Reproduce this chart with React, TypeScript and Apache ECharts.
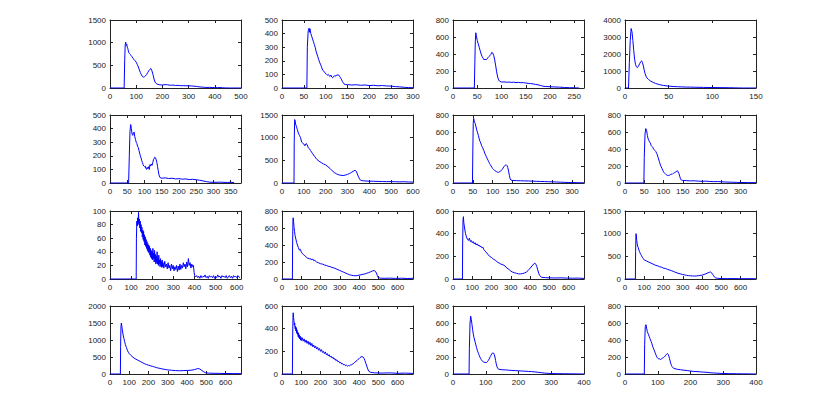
import React, { useEffect, useRef } from "react";
import * as echarts from "echarts";

// Histogram curves, one list of [bin, count] pairs per panel
const p1 = [[0,0],[54,0],[56,600],[58,950],[60,1010],[62,940],[64,960],[66,900],[68,870],[70,820],[72,780],[74,760],[76,770],[78,740],[80,720],[84,690],[88,650],[92,630],[96,600],[100,570],[104,520],[108,470],[112,400],[116,340],[120,290],[124,250],[128,240],[132,250],[136,270],[140,300],[144,340],[148,380],[152,410],[156,430],[158,420],[160,380],[164,300],[168,200],[172,130],[176,100],[180,85],[190,70],[200,65],[210,75],[220,70],[230,60],[240,65],[250,55],[260,58],[270,50],[280,52],[290,48],[300,50],[310,45],[320,40],[330,35],[340,25],[350,20],[360,15],[370,12],[380,14],[390,10],[400,12],[410,8],[420,10],[430,5],[440,2],[460,0],[500,0]];
const p2 = [[0,0],[57,0],[58,300],[60,420],[62,440],[63,410],[64,435],[66,400],[68,380],[70,360],[72,340],[74,320],[76,300],[78,270],[80,250],[82,230],[84,210],[86,190],[88,175],[90,160],[92,140],[94,130],[96,120],[98,115],[100,105],[102,100],[104,95],[106,100],[108,90],[110,85],[112,95],[114,80],[116,75],[118,85],[120,90],[122,85],[124,95],[126,92],[128,98],[130,95],[132,85],[134,75],[136,65],[138,50],[140,40],[142,30],[145,25],[150,25],[160,22],[170,24],[180,20],[190,22],[200,18],[210,20],[220,16],[230,18],[240,15],[250,14],[260,10],[270,8],[280,5],[290,3],[300,2]];
const p3 = [[0,0],[44,0],[45,300],[46,550],[47,650],[48,620],[50,560],[52,520],[54,480],[56,440],[58,400],[60,370],[62,350],[64,330],[66,340],[68,330],[70,345],[72,355],[74,370],[76,380],[78,395],[80,420],[82,410],[84,380],[86,330],[88,260],[90,190],[92,130],[94,95],[96,80],[100,70],[105,72],[110,68],[115,70],[120,66],[125,68],[130,64],[135,66],[140,62],[145,64],[150,58],[155,55],[160,52],[165,48],[170,42],[175,38],[180,30],[185,22],[190,18],[200,15],[210,12],[220,10],[230,6],[240,4],[250,2],[260,0]];
const p4 = [[0,0],[4,0],[5,1500],[6,2800],[7,3500],[8,3300],[9,2800],[10,2200],[11,1700],[12,1400],[13,1250],[14,1200],[15,1250],[16,1350],[17,1450],[18,1550],[19,1600],[20,1500],[21,1300],[22,1050],[23,850],[24,700],[25,600],[27,500],[29,420],[31,360],[33,310],[35,270],[38,220],[41,180],[44,150],[47,130],[50,110],[55,90],[60,75],[65,65],[70,55],[75,50],[80,45],[90,35],[100,28],[110,22],[120,15],[125,10],[130,5],[135,0],[150,0]];
const p5 = [[0,0],[54,0],[56,200],[58,380],[60,430],[62,400],[64,360],[66,350],[68,370],[70,375],[72,340],[74,320],[76,300],[78,290],[80,270],[82,260],[84,240],[86,220],[88,200],[90,185],[92,165],[94,150],[96,135],[98,125],[100,120],[102,125],[104,110],[106,100],[108,115],[110,105],[112,120],[114,100],[116,135],[118,125],[120,140],[122,130],[124,150],[126,170],[128,180],[130,190],[132,185],[134,170],[136,150],[138,120],[140,90],[142,60],[145,40],[150,35],[160,38],[170,33],[180,35],[190,30],[200,32],[210,28],[220,30],[230,25],[240,27],[250,24],[260,20],[270,15],[280,10],[290,6],[300,5],[320,6],[340,4],[350,5],[360,3]];
const p6 = [[0,0],[55,0],[56,900],[58,1400],[60,1380],[62,1300],[66,1250],[70,1180],[75,1100],[80,1050],[85,1000],[90,900],[95,880],[100,860],[105,820],[110,870],[115,850],[120,780],[125,760],[130,720],[140,650],[150,580],[160,520],[170,480],[180,450],[190,420],[200,400],[210,360],[220,320],[230,270],[240,230],[250,200],[260,180],[270,170],[280,165],[290,175],[300,190],[310,210],[320,240],[330,270],[335,280],[340,260],[345,200],[350,140],[355,90],[360,60],[370,50],[380,45],[400,40],[420,38],[440,35],[460,32],[480,30],[500,30],[520,28],[540,25],[560,28],[580,22],[600,20]];
const p7 = [[0,0],[49,0],[50,400],[51,700],[52,760],[54,720],[56,700],[58,660],[60,620],[62,590],[64,560],[66,520],[68,490],[70,470],[72,440],[74,420],[76,400],[78,380],[80,350],[82,330],[84,310],[86,290],[88,270],[90,250],[92,230],[94,215],[96,200],[98,185],[100,170],[102,160],[104,150],[106,145],[108,140],[110,130],[112,128],[114,125],[116,130],[118,135],[120,140],[122,150],[124,160],[126,175],[128,190],[130,200],[132,210],[134,215],[136,205],[138,180],[140,140],[142,90],[144,50],[146,35],[150,30],[160,28],[170,26],[180,25],[190,24],[200,22],[210,20],[220,18],[230,17],[240,15],[250,14],[260,12],[270,10],[280,8],[290,6],[300,5],[310,4],[320,3],[330,2]];
const p8 = [[0,0],[49,0],[50,300],[52,580],[54,640],[56,620],[58,560],[60,520],[62,500],[64,480],[66,470],[68,440],[70,430],[72,420],[74,400],[76,390],[78,380],[80,370],[82,350],[84,330],[86,300],[88,270],[90,240],[92,210],[94,190],[96,170],[98,150],[100,130],[102,120],[104,110],[106,100],[108,95],[110,90],[112,85],[114,95],[116,90],[118,100],[120,105],[122,100],[124,110],[126,115],[128,120],[130,125],[132,130],[134,140],[136,145],[138,130],[140,110],[142,80],[144,50],[146,35],[150,30],[160,28],[170,25],[180,26],[190,22],[200,20],[210,22],[220,18],[230,16],[240,17],[250,14],[260,12],[270,10],[280,9],[290,7],[300,6],[320,5],[340,4]];
const p9 = [[0,0],[124,0],[125,60],[127,85],[129,78],[131,90],[133,80],[135,98],[137,82],[139,88],[141,75],[143,85],[145,70],[147,80],[149,68],[151,76],[153,62],[155,72],[157,58],[159,70],[161,55],[163,65],[165,50],[167,62],[169,48],[171,58],[173,45],[175,55],[177,42],[179,52],[181,40],[183,50],[185,38],[187,48],[189,35],[191,45],[193,32],[195,42],[197,30],[199,40],[201,28],[203,45],[205,30],[207,38],[209,25],[211,42],[213,26],[215,36],[217,22],[219,34],[221,24],[223,40],[225,22],[227,30],[229,20],[231,35],[233,22],[235,28],[237,18],[239,30],[241,20],[243,26],[245,17],[247,28],[249,18],[251,24],[255,16],[259,26],[263,18],[267,22],[271,15],[275,24],[279,16],[283,20],[287,12],[291,22],[295,15],[299,20],[303,12],[307,18],[311,14],[315,20],[319,11],[323,19],[327,13],[331,22],[335,14],[339,20],[343,16],[347,24],[351,18],[355,22],[359,15],[363,25],[367,18],[371,30],[375,20],[379,24],[383,16],[387,22],[391,18],[395,20],[398,10],[401,5],[404,3],[410,5],[415,2],[420,4],[425,1],[430,5],[435,2],[440,4],[445,3],[450,6],[455,2],[460,4],[465,1],[470,5],[475,3],[480,4],[485,2],[490,5],[495,1],[500,4],[505,2],[510,6],[515,3],[520,4],[525,1],[530,5],[535,3],[540,4],[545,2],[550,5],[555,1],[560,3],[565,5],[570,2],[575,4],[580,1],[585,5],[590,3],[595,4],[600,2],[605,5],[610,3],[615,2]];
const p10 = [[0,0],[54,0],[55,400],[57,700],[58,720],[60,680],[62,620],[65,560],[68,510],[72,470],[76,430],[80,400],[85,370],[90,340],[95,350],[100,320],[105,300],[110,290],[115,280],[120,270],[125,260],[130,250],[135,240],[140,245],[145,230],[150,240],[155,225],[160,235],[165,215],[170,220],[180,200],[190,190],[200,180],[210,175],[220,165],[230,160],[240,150],[250,145],[260,135],[270,130],[280,120],[290,110],[300,100],[310,90],[320,80],[330,70],[340,60],[350,50],[360,45],[370,40],[380,38],[390,40],[400,45],[410,50],[420,55],[430,60],[440,68],[450,75],[460,85],[470,95],[478,100],[485,90],[490,70],[495,40],[500,15],[510,10],[530,8],[560,10],[590,7],[620,9],[650,6],[680,8]];
const p11 = [[0,0],[49,0],[50,300],[52,520],[54,550],[56,500],[60,450],[65,400],[70,370],[75,350],[80,340],[85,360],[90,330],[95,340],[100,320],[105,330],[110,310],[115,320],[120,300],[125,310],[130,295],[135,300],[140,285],[145,290],[150,275],[155,280],[160,260],[170,240],[180,220],[190,200],[200,190],[210,175],[220,165],[230,150],[240,140],[250,130],[260,125],[270,115],[280,95],[290,85],[300,70],[310,60],[320,55],[330,50],[340,45],[350,45],[360,48],[370,52],[380,60],[390,75],[400,95],[410,115],[420,135],[425,140],[430,130],[435,110],[440,80],[445,50],[450,30],[460,15],[480,12],[500,10],[530,9],[560,10],[590,8],[620,7],[650,8],[680,5]];
const p12 = [[0,0],[54,0],[55,600],[57,1000],[59,950],[61,850],[64,750],[68,700],[72,640],[76,600],[80,560],[85,520],[90,480],[95,450],[100,420],[110,400],[120,380],[130,360],[140,340],[150,320],[160,300],[170,290],[180,270],[190,260],[200,240],[210,230],[220,215],[230,200],[240,185],[250,170],[260,150],[270,135],[280,120],[290,110],[300,100],[310,90],[320,80],[330,75],[340,70],[350,68],[360,65],[370,68],[380,72],[390,78],[400,85],[410,100],[420,115],[430,135],[440,150],[445,155],[450,135],[455,100],[460,70],[465,40],[470,25],[480,15],[500,10],[530,8],[560,10],[600,6],[640,8],[680,5]];
const p13 = [[0,0],[54,0],[55,800],[57,1400],[59,1500],[61,1420],[64,1300],[68,1150],[72,1050],[76,950],[80,860],[85,780],[90,700],[95,640],[100,600],[110,540],[120,490],[130,450],[140,420],[150,390],[160,360],[170,330],[180,300],[190,280],[200,260],[210,240],[220,225],[230,210],[240,190],[250,175],[260,165],[270,150],[280,140],[290,130],[300,120],[320,110],[340,100],[360,95],[380,100],[400,105],[420,110],[440,130],[455,160],[465,150],[475,110],[485,70],[495,40],[510,25],[540,20],[570,18],[600,15],[640,12],[680,10]];
const p14 = [[0,0],[54,0],[55,300],[57,500],[58,540],[60,500],[62,470],[64,430],[66,450],[68,400],[70,420],[72,380],[74,410],[76,360],[78,390],[80,350],[82,370],[84,330],[86,360],[88,320],[90,345],[92,310],[94,335],[96,300],[98,325],[100,295],[105,320],[110,290],[115,310],[120,280],[125,300],[130,270],[135,290],[140,260],[145,280],[150,250],[155,270],[160,240],[165,255],[170,230],[175,245],[180,220],[185,235],[190,210],[195,225],[200,200],[205,215],[210,190],[215,200],[220,180],[225,195],[230,170],[235,180],[240,160],[245,170],[250,150],[255,158],[260,140],[265,148],[270,130],[275,135],[280,118],[285,125],[290,108],[295,112],[300,98],[305,102],[310,88],[315,92],[320,80],[325,84],[330,72],[335,78],[340,70],[345,75],[350,72],[355,80],[360,78],[365,88],[370,90],[375,100],[380,105],[385,115],[390,120],[395,130],[400,135],[405,145],[410,150],[415,155],[420,150],[425,140],[430,120],[435,95],[440,70],[445,45],[450,25],[460,15],[480,10],[520,8],[560,10],[600,6],[640,8],[680,5]];
const p15 = [[0,0],[49,0],[50,300],[52,600],[54,680],[56,640],[58,580],[60,520],[62,470],[64,430],[66,400],[68,370],[70,340],[72,310],[74,280],[76,260],[78,240],[80,220],[82,200],[84,185],[86,170],[88,160],[90,150],[92,145],[94,140],[96,138],[98,135],[100,132],[102,135],[104,140],[106,150],[108,160],[110,175],[112,190],[114,205],[116,220],[118,235],[120,245],[122,250],[124,245],[126,230],[128,200],[130,160],[132,120],[134,90],[136,70],[138,60],[140,55],[150,50],[160,48],[170,45],[180,42],[190,40],[200,38],[210,35],[220,33],[230,30],[240,28],[250,25],[260,20],[270,15],[280,10],[290,8],[300,5],[320,4],[340,3],[360,2],[380,1],[400,0]];
const p16 = [[0,0],[59,0],[60,350],[62,560],[64,580],[66,540],[68,500],[70,480],[72,460],[74,440],[76,420],[78,400],[80,380],[82,360],[84,330],[86,310],[88,290],[90,270],[92,250],[94,230],[96,210],[98,195],[100,185],[102,180],[104,175],[106,180],[108,170],[110,175],[112,180],[114,185],[116,190],[118,195],[120,200],[122,210],[124,220],[126,230],[128,235],[130,240],[132,230],[134,210],[136,180],[138,150],[140,120],[142,100],[144,85],[146,75],[150,65],[160,55],[170,50],[180,45],[190,40],[200,35],[210,30],[220,28],[230,25],[240,22],[250,20],[260,15],[270,12],[280,10],[290,8],[300,6],[320,4],[340,3],[360,2],[380,1],[400,0]];

const panels = [p1, p2, p3, p4, p5, p6, p7, p8, p9, p10, p11, p12, p13, p14, p15, p16];
// axis ranges per panel: [xMax, xStep, yMax, yStep]
const xMaxes = [500, 300, 270, 150, 380, 600, 330, 340, 620, 680, 680, 680, 680, 680, 400, 400];
const xSteps = [100, 50, 50, 50, 50, 100, 50, 50, 100, 100, 100, 100, 100, 100, 100, 100];
const yMaxes = [1500, 500, 800, 4000, 500, 1500, 800, 800, 100, 800, 600, 1500, 2000, 600, 800, 800];
const ySteps = [500, 100, 200, 1000, 100, 500, 200, 200, 20, 200, 200, 500, 500, 200, 200, 200];

const colLefts = [110, 282, 453, 625];
const rowTops = [20, 115, 211, 306];
const panelW = 131;
const panelH = 68;

const AXIS = "#222";
const FONT = "Liberation Sans";

function fmt(step: number) {
  return (v: number) => {
    const r = v / step;
    return Math.abs(r - Math.round(r)) < 1e-6 ? String(v) : "";
  };
}

export default function App() {
  const ref = useRef<HTMLDivElement>(null);
  useEffect(() => {
    if (!ref.current) return;
    const chart = echarts.init(ref.current, undefined, { renderer: "svg" });
    const grid: any[] = [];
    const xAxis: any[] = [];
    const yAxis: any[] = [];
    const series: any[] = [];
    panels.forEach((data, i) => {
      const r = Math.floor(i / 4);
      const c = i % 4;
      grid.push({ left: colLefts[c], top: rowTops[r], width: panelW, height: panelH, containLabel: false });
      const common = {
        gridIndex: i,
        type: "value",
        splitLine: { show: false },
        axisLine: { show: true, onZero: false, lineStyle: { color: AXIS, width: 1 } },
        axisTick: { show: true, inside: true, length: 3, lineStyle: { color: AXIS } },
      };
      xAxis.push({
        ...common,
        position: "bottom",
        min: 0,
        max: xMaxes[i],
        interval: xSteps[i],
        axisLabel: { show: true, fontSize: 8, color: AXIS, fontFamily: FONT, margin: 4, formatter: fmt(xSteps[i]) },
      });
      xAxis.push({
        ...common,
        position: "top",
        min: 0,
        max: xMaxes[i],
        interval: xSteps[i],
        axisLabel: { show: false },
      });
      yAxis.push({
        ...common,
        position: "left",
        min: 0,
        max: yMaxes[i],
        interval: ySteps[i],
        axisLabel: { show: true, fontSize: 8, color: AXIS, fontFamily: FONT, margin: 4, formatter: fmt(ySteps[i]) },
      });
      yAxis.push({
        ...common,
        position: "right",
        min: 0,
        max: yMaxes[i],
        interval: ySteps[i],
        axisLabel: { show: false },
      });
      series.push({
        type: "line",
        xAxisIndex: 2 * i,
        yAxisIndex: 2 * i,
        data,
        showSymbol: false,
        symbol: "none",
        lineStyle: { color: "#0000ff", width: 1 },
        itemStyle: { color: "#0000ff" },
      });
    });
    chart.setOption({
      animation: false,
      backgroundColor: "#ffffff",
      grid,
      xAxis,
      yAxis,
      series,
    });
    return () => chart.dispose();
  }, []);
  return (
    <div
      ref={ref}
      style={{ position: "fixed", left: 0, top: 0, width: 836, height: 408, background: "#fff" }}
    />
  );
}
